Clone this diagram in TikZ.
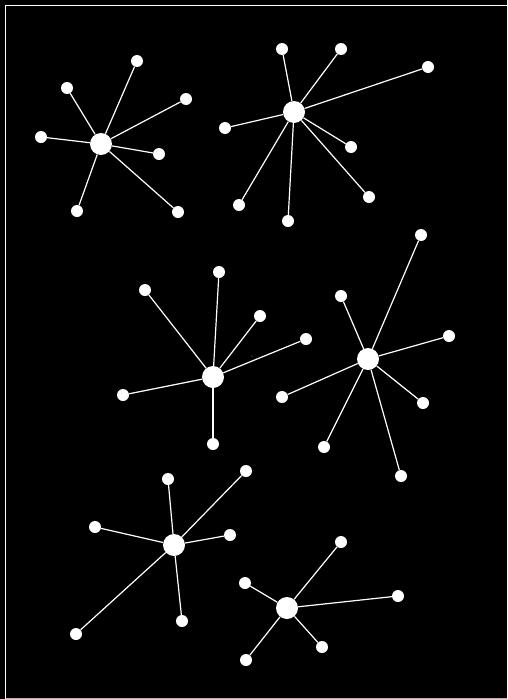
\documentclass[tikz,border=0pt]{standalone}
\begin{document}
\begin{tikzpicture}[x=1pt,y=-1pt,
  hub/.style={circle,fill=white,draw=none,minimum size=22pt,inner sep=0pt},
  leaf/.style={circle,fill=white,draw=none,minimum size=12pt,inner sep=0pt},
  spoke/.style={draw=white,line width=1.2pt}]
\fill[black] (0,0) rectangle (507,699);
\useasboundingbox (0,0) rectangle (507,699);
\draw[white,line width=1.5pt] (5.5,699) -- (5.5,5.5) -- (507,5.5);
\draw[gray!60,line width=1pt] (5.5,698.5) -- (507,698.5);
\fill[gray] (252,356) circle (0.7);
% star 1
\node[hub] (h1) at (101,144) {};
\foreach \n/\p in {a/{(67,88)},b/{(137,61)},c/{(186,99)},d/{(41,137)},e/{(159,154)},f/{(77,211)},g/{(178,212)}}
  {\node[leaf] (l1\n) at \p {}; \draw[spoke] (h1) -- (l1\n);}
% star 2
\node[hub] (h2) at (294,112) {};
\foreach \n/\p in {a/{(282,49)},b/{(341,49)},c/{(428,67)},d/{(225,128)},e/{(351,147)},f/{(239,205)},g/{(288,221)},h/{(369,197)}}
  {\node[leaf] (l2\n) at \p {}; \draw[spoke] (h2) -- (l2\n);}
% star 3
\node[hub] (h3) at (213,377) {};
\foreach \n/\p in {a/{(145,290)},b/{(219,272)},c/{(260,316)},d/{(306,339)},e/{(123,395)},f/{(213,444)}}
  {\node[leaf] (l3\n) at \p {}; \draw[spoke] (h3) -- (l3\n);}
% star 4
\node[hub] (h4) at (368,359) {};
\foreach \n/\p in {a/{(421,235)},b/{(341,296)},c/{(449,336)},d/{(282,397)},e/{(423,403)},f/{(324,447)},g/{(401,476)}}
  {\node[leaf] (l4\n) at \p {}; \draw[spoke] (h4) -- (l4\n);}
% star 5
\node[hub] (h5) at (174,545) {};
\foreach \n/\p in {a/{(168,479)},b/{(246,471)},c/{(95,527)},d/{(230,535)},e/{(76,634)},f/{(182,621)}}
  {\node[leaf] (l5\n) at \p {}; \draw[spoke] (h5) -- (l5\n);}
% star 6
\node[hub] (h6) at (287,608) {};
\foreach \n/\p in {a/{(341,542)},b/{(245,583)},c/{(398,596)},d/{(246,660)},e/{(322,647)}}
  {\node[leaf] (l6\n) at \p {}; \draw[spoke] (h6) -- (l6\n);}
\end{tikzpicture}
\end{document}
